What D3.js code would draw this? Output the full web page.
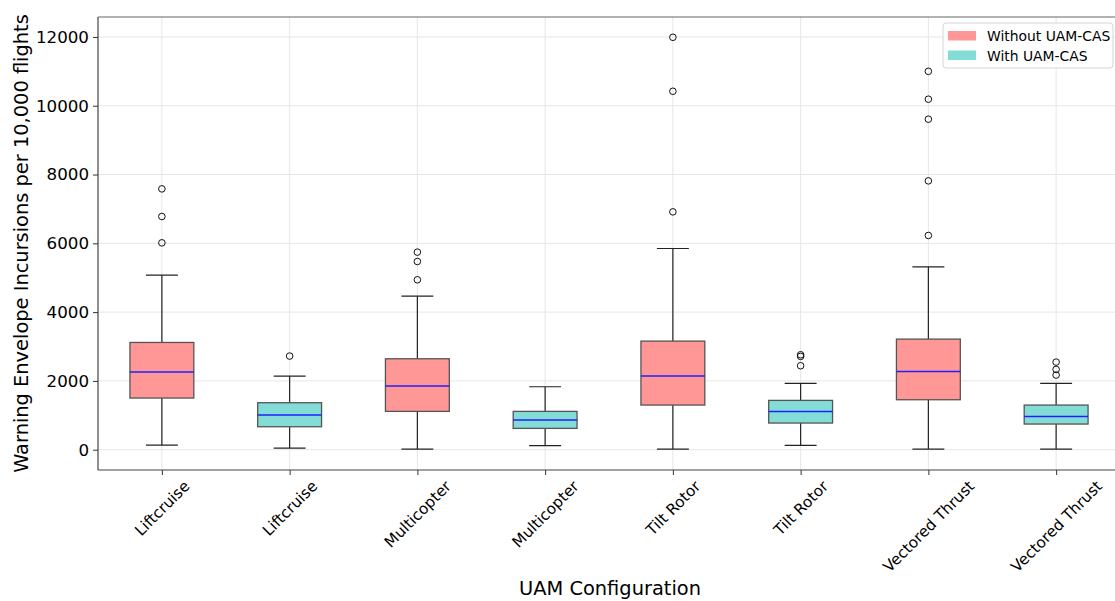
<!DOCTYPE html>
<html>
<head>
<meta charset="utf-8">
<script src="https://cdn.jsdelivr.net/npm/d3@7"></script>
<style>
  body { margin: 0; background: #fff; }
  svg, svg text { font-family: "DejaVu Sans", sans-serif; }
  svg { display: block; }
</style>
</head>
<body>
<svg id="chart" width="1115" height="601"></svg>
<script>
// box stats
var labels = ['Liftcruise', 'Liftcruise', 'Multicopter', 'Multicopter', 'Tilt Rotor', 'Tilt Rotor', 'Vectored Thrust', 'Vectored Thrust'];
var groups = ['without', 'with', 'without', 'with', 'without', 'with', 'without', 'with'];
var whiskLo = [136, 48, 19, 116, 19, 126, 19, 19];
var q1 = [1502, 668, 1114, 620, 1298, 775, 1453, 746];
var median = [2257, 1007, 1850, 862, 2140, 1114, 2276, 968];
var q3 = [3118, 1366, 2644, 1114, 3157, 1434, 3215, 1298];
var whiskHi = [5075, 2140, 4465, 1830, 5850, 1928, 5317, 1928];
var outliers = [
    [7583, 6780, 6014],
    [2722],
    [5744, 5472, 4940],
    [],
    [11990, 10421, 6915],
    [2760, 2712, 2441],
    [11001, 10190, 9609, 7816, 6228],
    [2547, 2334, 2170]
];
var yTicks = [0, 2000, 4000, 6000, 8000, 10000, 12000];
var legendNames = ['Without UAM-CAS', 'With UAM-CAS'];

var fills = { without: '#ff9797', 'with': '#83dcd6' };

var margin = { left: 98, top: 17, right: 1120, bottom: 470 };
var svg = d3.select('#chart');

var x = d3.scaleLinear().domain([0.5, 8.5]).range([margin.left, margin.right]);
var y = d3.scaleLinear().domain([-590, 12580]).range([margin.bottom, margin.top]);
var unit = x(1) - x(0);

// grid
var grid = svg.append('g');
grid.selectAll('.gy').data(yTicks).enter().append('line')
    .attr('x1', margin.left).attr('x2', margin.right)
    .attr('y1', function(d) { return y(d); }).attr('y2', function(d) { return y(d); })
    .attr('stroke', '#e6e6e6').attr('stroke-width', 1);
grid.selectAll('.gx').data(labels).enter().append('line')
    .attr('x1', function(d, i) { return x(i + 1); }).attr('x2', function(d, i) { return x(i + 1); })
    .attr('y1', margin.top).attr('y2', margin.bottom)
    .attr('stroke', '#e6e6e6').attr('stroke-width', 1);

// boxes
var boxes = svg.append('g').selectAll('g').data(labels).enter().append('g')
    .attr('transform', function(d, i) { return 'translate(' + x(i + 1) + ',0)'; });

boxes.append('line') // lower whisker
    .attr('x1', 0).attr('x2', 0)
    .attr('y1', function(d, i) { return y(q1[i]); }).attr('y2', function(d, i) { return y(whiskLo[i]); })
    .attr('stroke', '#222').attr('stroke-width', 1.2);
boxes.append('line')
    .attr('x1', 0).attr('x2', 0)
    .attr('y1', function(d, i) { return y(q3[i]); }).attr('y2', function(d, i) { return y(whiskHi[i]); })
    .attr('stroke', '#222').attr('stroke-width', 1.2);
boxes.append('line')
    .attr('x1', -unit / 8).attr('x2', unit / 8)
    .attr('y1', function(d, i) { return y(whiskLo[i]); }).attr('y2', function(d, i) { return y(whiskLo[i]); })
    .attr('stroke', '#222').attr('stroke-width', 1.2);
boxes.append('line')
    .attr('x1', -unit / 8).attr('x2', unit / 8)
    .attr('y1', function(d, i) { return y(whiskHi[i]); }).attr('y2', function(d, i) { return y(whiskHi[i]); })
    .attr('stroke', '#222').attr('stroke-width', 1.2);

boxes.append('rect')
    .attr('x', -unit / 4).attr('width', unit / 2)
    .attr('y', function(d, i) { return y(q3[i]); })
    .attr('height', function(d, i) { return y(q1[i]) - y(q3[i]); })
    .attr('fill', function(d, i) { return fills[groups[i]]; })
    .attr('stroke', '#555').attr('stroke-width', 1.3);

boxes.append('line')
    .attr('x1', -unit / 4).attr('x2', unit / 4)
    .attr('y1', function(d, i) { return y(median[i]); }).attr('y2', function(d, i) { return y(median[i]); })
    .attr('stroke', '#1f1fff').attr('stroke-width', 1.5);

boxes.selectAll('circle').data(function(d, i) { return outliers[i]; }).enter().append('circle')
    .attr('cx', 0).attr('cy', function(v) { return y(v); }).attr('r', 3.3)
    .attr('fill', 'none').attr('stroke', '#111').attr('stroke-width', 1);

// axes
var yAxis = svg.append('g')
    .attr('transform', 'translate(' + margin.left + ',0)')
    .call(d3.axisLeft(y).tickValues(yTicks).tickSize(5).tickPadding(4).tickFormat(d3.format('d')));
yAxis.attr('font-family', null);
yAxis.select('.domain').remove();
yAxis.selectAll('text').attr('font-size', '16.7px').attr('fill', '#000');
yAxis.selectAll('line').attr('stroke', '#333');

var xAxis = svg.append('g')
    .attr('transform', 'translate(0,' + margin.bottom + ')')
    .call(d3.axisBottom(x).tickValues(d3.range(1, 9)).tickSize(5).tickFormat(function(d) { return labels[d - 1]; }));
xAxis.attr('font-family', null);
xAxis.select('.domain').remove();
xAxis.selectAll('line').attr('stroke', '#333');
xAxis.selectAll('text').attr('font-size', '15.3px').attr('fill', '#000')
    .attr('text-anchor', 'middle').attr('dy', null).attr('y', null)
    .each(function() {
        var t = d3.select(this);
        var w = this.getComputedTextLength();
        var h = 15.3 * 1.05;
        var bh = (w + h) * Math.SQRT1_2;
        var cy = 8 + bh / 2;
        t.attr('dominant-baseline', 'central')
         .attr('transform', 'translate(0,' + cy + ') rotate(-45)');
    });

// spines
svg.append('line').attr('x1', margin.left).attr('x2', margin.left)
    .attr('y1', margin.top).attr('y2', margin.bottom).attr('stroke', '#444').attr('stroke-width', 1.2);
svg.append('line').attr('x1', margin.left).attr('x2', margin.right)
    .attr('y1', margin.bottom).attr('y2', margin.bottom).attr('stroke', '#444').attr('stroke-width', 1.2);
svg.append('line').attr('x1', margin.left).attr('x2', margin.right)
    .attr('y1', margin.top).attr('y2', margin.top).attr('stroke', '#666').attr('stroke-width', 1.2);

// axis titles
svg.append('text')
    .attr('transform', 'translate(28,' + ((margin.top + margin.bottom) / 2) + ') rotate(-90)')
    .attr('text-anchor', 'middle').attr('font-size', '19.4px').attr('fill', '#000')
    .text('Warning Envelope Incursions per 10,000 flights');
svg.append('text')
    .attr('x', 610).attr('y', 595)
    .attr('text-anchor', 'middle').attr('font-size', '19.4px').attr('fill', '#000')
    .text('UAM Configuration');

// legend
var lg = svg.append('g').attr('transform', 'translate(943,23)');
lg.append('rect').attr('width', 170).attr('height', 45).attr('rx', 3)
    .attr('fill', 'rgba(255,255,255,0.8)').attr('stroke', '#d6d6d6').attr('stroke-width', 1);
var items = lg.selectAll('.it').data(legendNames).enter().append('g')
    .attr('transform', function(d, i) { return 'translate(5,' + (8 + i * 19.5) + ')'; });
items.append('rect').attr('width', 28).attr('height', 9.5)
    .attr('fill', function(d, i) { return fills[i === 0 ? 'without' : 'with']; });
items.append('text').attr('x', 39).attr('y', 5).attr('dominant-baseline', 'central')
    .attr('font-size', '13.9px').attr('fill', '#000')
    .text(function(d) { return d; });
</script>
</body>
</html>
